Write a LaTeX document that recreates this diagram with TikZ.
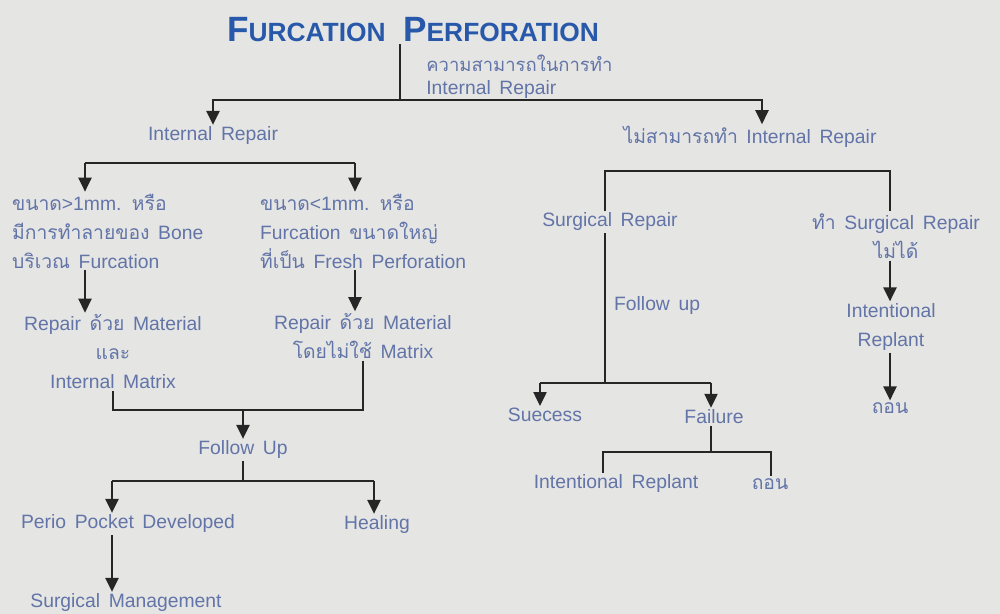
\documentclass[tikz,border=0pt]{standalone}
\usepackage{fontspec}
\setmainfont[WordSpace=1.6]{Liberation Sans}
\newfontfamily\thaifont[Script=Thai]{Loma}
\newcommand{\tht}[1]{{\thaifont #1}}
\usetikzlibrary{arrows.meta,calc}
\definecolor{Paper}{RGB}{229,229,227}
\definecolor{Txt}{RGB}{98,116,168}
\definecolor{Ttl}{RGB}{40,88,170}
\tikzset{
  lbl/.style={text=Txt,font=\fontsize{11}{16.5}\selectfont,inner sep=1pt,align=center},
  lblw/.style={lbl,anchor=west,align=left},
  ttl/.style={text=Ttl,font=\bfseries,inner sep=1pt},
  ln/.style={line width=1.3pt,draw=black!85},
  arr/.style={ln,-{Triangle[length=2.8mm,width=2.6mm]}}
}
\begin{document}
\begin{tikzpicture}[x=0.02cm,y=-0.02cm]
\fill[Paper] (0,0) rectangle (1000,614);
\useasboundingbox (0,0) rectangle (1000,614);
% title and first split
\node[ttl] (title) at (413,30) {{\fontsize{20}{20}\selectfont F}{\fontsize{15}{15}\selectfont URCATION}\quad{\fontsize{20}{20}\selectfont P}{\fontsize{15}{15}\selectfont ERFORATION}};
\node[lblw,inner sep=0pt,font=\fontsize{10.5}{12}\selectfont] (able) at (426,63) {\tht{ความสามารถในการทำ}};
\node[lblw,inner sep=0pt] (able2) at (426,90) {Internal Repair};
\node[lbl] (intR) at (213,136) {Internal Repair};
\node[lbl] (noIntR) at (750,137) {\tht{ไม่สามารถทำ} Internal Repair};
% left side
\node[lblw] (big) at (10,231) {\tht{ขนาด}>1mm. \tht{หรือ}\\\tht{มีการทำลายของ} Bone\\\tht{บริเวณ} Furcation};
\node[lblw] (small) at (258,231) {\tht{ขนาด}<1mm. \tht{หรือ}\\Furcation \tht{ขนาดใหญ่}\\\tht{ที่เป็น} Fresh Perforation};
\node[lbl] (matA) at (113,352) {Repair \tht{ด้วย} Material\\\tht{และ}\\Internal Matrix};
\node[lbl] (matB) at (363,336) {Repair \tht{ด้วย} Material\\\tht{โดยไม่ใช้} Matrix};
\node[lbl] (follow) at (243,450) {Follow Up};
\node[lbl] (perio) at (128,524) {Perio Pocket Developed};
\node[lbl] (heal) at (377,525) {Healing};
\node[lbl] (surgM) at (126,603) {Surgical Management};
% right side
\node[lbl] (surgR) at (610,222) {Surgical Repair};
\node[lbl] (noSurg) at (896,236) {\tht{ทำ} Surgical Repair\\\tht{ไม่ได้}};
\node[lblw] (fup) at (612,306) {Follow up};
\node[lbl] (succ) at (545,415) {Suecess};
\node[lbl] (fail) at (714,417) {Failure};
\node[lbl] (replA) at (616,484) {Intentional Replant};
\node[lbl] (extA) at (770,484) {\tht{ถอน}};
\node[lbl] (replB) at (891,327) {Intentional\\Replant};
\node[lbl] (extB) at (890,408) {\tht{ถอน}};
% junctions
\coordinate (j1) at (400,100);
\coordinate (j2a) at (85,163);
\coordinate (j2b) at (355,163);
\coordinate (j3) at (243,410);
\coordinate (j4a) at (112,481);
\coordinate (j4b) at (374,481);
\coordinate (k1a) at (605,171);
\coordinate (k1b) at (890,171);
\coordinate (k2a) at (540,383);
\coordinate (k2b) at (711,383);
\coordinate (k3a) at (603,452);
\coordinate (k3b) at (771,452);
% connectors, left
\draw[ln] (title.south -| j1) -- (j1);
\draw[arr] (j1) -| (intR.north);
\draw[arr] (j1) -| ($(noIntR.north)+(12,0)$);
\draw[ln] (j2a) -- (j2b);
\draw[arr] (j2a) -- (j2a |- big.north);
\draw[arr] (j2b) -- (j2b |- small.north);
\draw[arr] (j2a |- big.south) -- (j2a |- matA.north);
\draw[arr] (j2b |- small.south) -- (j2b |- matB.north);
\draw[ln] (matA.south) |- (j3);
\draw[ln] (matB.south) |- (j3);
\draw[arr] (j3) -- (follow.north);
\draw[ln] (follow.south) -- (follow.south |- j4a);
\draw[ln] (j4a) -- (j4b);
\draw[arr] (j4a) -- (j4a |- perio.north);
\draw[arr] (j4b) -- (j4b |- heal.north);
\draw[arr] (j4a |- perio.south) -- (j4a |- surgM.north);
% connectors, right
\draw[ln] (k1a |- surgR.north) |- (k1b) -- (k1b |- noSurg.north);
\draw[ln] (k1a |- surgR.south) -- (k1a |- k2a);
\draw[ln] (k2a) -- (k2b);
\draw[arr] (k2a) -- (k2a |- succ.north);
\draw[arr] (k2b) -- (k2b |- fail.north);
\draw[ln] (k2b |- fail.south) -- (k2b |- k3a);
\draw[ln] (k3a |- replA.north) |- (k3b) -- (k3b |- extA.north);
\draw[arr] (k1b |- noSurg.south) -- (k1b |- replB.north);
\draw[arr] (k1b |- replB.south) -- (k1b |- extB.north);
\end{tikzpicture}
\end{document}
